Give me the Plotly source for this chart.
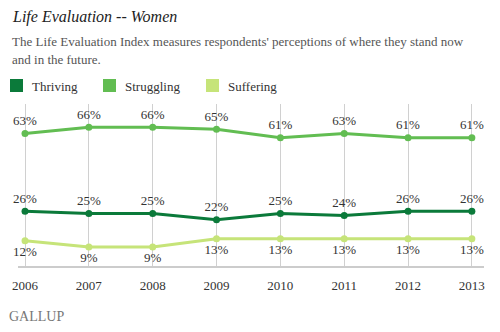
import plotly.graph_objects as go

# Life Evaluation Index, women, share of respondents by category
years = [2006, 2007, 2008, 2009, 2010, 2011, 2012, 2013]
thriving = [26, 25, 25, 22, 25, 24, 26, 26]
struggling = [63, 66, 66, 65, 61, 63, 61, 61]
suffering = [12, 9, 9, 13, 13, 13, 13, 13]

series_names = ["Thriving", "Struggling", "Suffering"]
series_colors = ["#0b7a3a", "#62bd52", "#c6e479"]

W, H = 500, 332
ML, MR, MT, MB = 18, 16, 104, 66
PW, PH = W - ML - MR, H - MT - MB

FONT = "Liberation Serif"


def px(x):
    return (x - ML) / PW


def py(y):
    return (H - MB - y) / PH


fig = go.Figure()

for name, vals, color, pos in [
    ("Struggling", struggling, series_colors[1], "top center"),
    ("Thriving", thriving, series_colors[0], "top center"),
    ("Suffering", suffering, series_colors[2], "bottom center"),
]:
    fig.add_trace(go.Scatter(
        x=years, y=vals, name=name, mode="lines+markers+text",
        line=dict(color=color, width=3),
        marker=dict(color=color, size=7),
        text=[f"{v}%" for v in vals], textposition=pos,
        textfont=dict(family=FONT, size=13, color="#333333"),
        cliponaxis=False, showlegend=False,
    ))

annotations = [
    dict(text="<i>Life Evaluation -- Women</i>", x=px(10), y=py(17),
         font=dict(family=FONT, size=16, color="#222222")),
    dict(text="The Life Evaluation Index measures respondents' perceptions of where they stand now",
         x=px(10), y=py(41), font=dict(family=FONT, size=13, color="#555555")),
    dict(text="and in the future.", x=px(10), y=py(60),
         font=dict(family=FONT, size=13, color="#555555")),
    dict(text="GALLUP", x=px(7), y=py(316),
         font=dict(family=FONT, size=14, color="#777777")),
]

shapes = []
legend_x = [10, 103, 206]
for name, color, lx in zip(series_names, series_colors, legend_x):
    shapes.append(dict(type="rect", xref="paper", yref="paper",
                       x0=px(lx), x1=px(lx + 13), y0=py(79), y1=py(92),
                       fillcolor=color, line=dict(width=0)))
    annotations.append(dict(text=name, x=px(lx + 20), y=py(86),
                            font=dict(family=FONT, size=13, color="#333333")))

for a in annotations:
    a.update(xref="paper", yref="paper", xanchor="left", yanchor="middle",
             showarrow=False)

fig.update_layout(
    width=W, height=H,
    margin=dict(l=ML, r=MR, t=MT, b=MB),
    paper_bgcolor="white", plot_bgcolor="white",
    annotations=annotations, shapes=shapes,
    xaxis=dict(range=[2005.89, 2013.19], tickvals=years,
               ticktext=[str(y) for y in years],
               showgrid=True, gridcolor="#d0d0d0", gridwidth=1,
               showline=True, linecolor="#cccccc", linewidth=2,
               ticks="outside", ticklen=6, tickcolor="rgba(0,0,0,0)",
               tickfont=dict(family=FONT, size=13, color="#333333"),
               zeroline=False, fixedrange=True),
    yaxis=dict(range=[0, 77], visible=False, showgrid=False,
               zeroline=False, fixedrange=True),
)

fig.write_html("out.html")
